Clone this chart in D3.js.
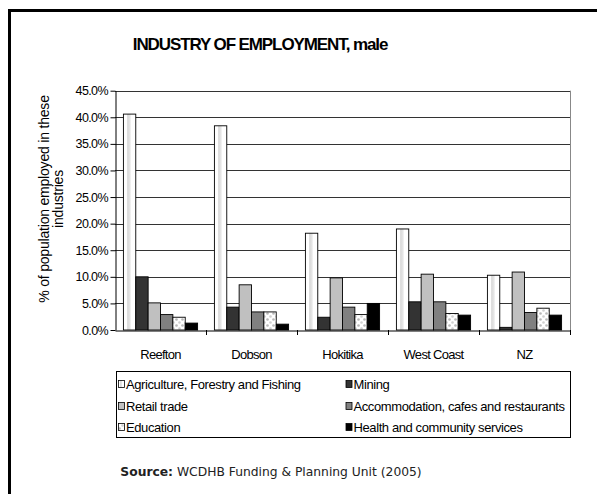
<!DOCTYPE html>
<html><head><meta charset="utf-8">
<script src="https://cdn.jsdelivr.net/npm/d3@7"></script>
<style>
html,body{margin:0;padding:0;background:#fff;}
svg{display:block;}
text{font-family:"Liberation Sans",Arial,sans-serif;}
</style></head>
<body>
<svg id="chart" width="597" height="494"></svg>
<script>
const categories = ["Reefton","Dobson","Hokitika","West Coast","NZ"];
const seriesNames = ["Agriculture, Forestry and Fishing","Mining","Retail trade","Accommodation, cafes and restaurants","Education","Health and community services"];
const agriculture = [40.6, 38.4, 18.2, 19.0, 10.3];
const mining      = [10.0, 4.3, 2.4, 5.3, 0.5];
const retail      = [5.1, 8.5, 9.8, 10.5, 10.9];
const accommodation = [2.9, 3.4, 4.3, 5.3, 3.3];
const education   = [2.4, 3.4, 2.9, 3.1, 4.1];
const health      = [1.3, 1.1, 5.0, 2.8, 2.8];
const yTicks = [0,5,10,15,20,25,30,35,40,45];
const seriesValues = [agriculture, mining, retail, accommodation, education, health];
const fills = ["url(#agri)","#333333","#c0c0c0","#808080","url(#edu)","#000000"];

const svg = d3.select("#chart");
const defs = svg.append("defs");
const g1 = defs.append("linearGradient").attr("id","agri").attr("x1","0").attr("x2","1").attr("y1","0").attr("y2","0");
[[0,"#ffffff"],[0.28,"#ffffff"],[0.34,"#d8d8d8"],[0.55,"#e8e8e8"],[0.62,"#ffffff"],[1,"#ffffff"]].forEach(s=>g1.append("stop").attr("offset",s[0]).attr("stop-color",s[1]));
const p = defs.append("pattern").attr("id","edu").attr("patternUnits","userSpaceOnUse").attr("width",6).attr("height",6);
p.append("rect").attr("width",6).attr("height",6).attr("fill","#fff");
p.append("circle").attr("cx",1.5).attr("cy",1.5).attr("r",1.3).attr("fill","#b8b8b8");
p.append("circle").attr("cx",4.5).attr("cy",4.5).attr("r",1.3).attr("fill","#d0d0d0");

// frame
svg.append("rect").attr("x",9.5).attr("y",10.5).attr("width",620).attr("height",520)
  .attr("fill","none").attr("stroke","#000").attr("stroke-width",3);

svg.append("text").attr("x",260).attr("y",50).attr("text-anchor","middle")
  .attr("font-size",17).attr("font-weight","bold").attr("letter-spacing",-1.1)
  .text("INDUSTRY OF EMPLOYMENT, male");

const pL=115, pR=570, pT=90.7, pB=330;
const x0 = d3.scaleBand().domain(categories).range([pL,pR]).paddingInner(0).paddingOuter(0);
const x1 = d3.scaleBand().domain(d3.range(seriesNames.length)).range([0,x0.bandwidth()]).paddingOuter(0.68).paddingInner(0);
const y = d3.scaleLinear().domain([0,45]).range([pB,pT]);

// gridlines
svg.append("g").selectAll("line").data(yTicks.filter(d=>d>0)).join("line")
  .attr("x1",pL).attr("x2",pR).attr("y1",d=>Math.round(y(d))+0.5).attr("y2",d=>Math.round(y(d))+0.5)
  .attr("stroke","#333").attr("stroke-width",1);
svg.append("line").attr("x1",pR+0.5).attr("x2",pR+0.5).attr("y1",pT).attr("y2",pB)
  .attr("stroke","#888");

// bars
const groups = svg.append("g").selectAll("g").data(categories).join("g")
  .attr("transform",c=>`translate(${x0(c)},0)`);
groups.selectAll("rect").data((c,ci)=>seriesValues.map((vals,si)=>({si,v:vals[ci]}))).join("rect")
  .attr("x",d=>x1(d.si)).attr("width",x1.bandwidth())
  .attr("y",d=>y(d.v)).attr("height",d=>y(0)-y(d.v))
  .attr("fill",d=>fills[d.si]).attr("stroke","#000").attr("stroke-width",0.9);

// y axis
const yAxis = d3.axisLeft(y).tickValues(yTicks).tickFormat(d=>d.toFixed(1)+"%").tickSize(5).tickSizeOuter(0);
const ya = svg.append("g").attr("transform",`translate(${pL+0.5},0)`).call(yAxis);
ya.selectAll("text").attr("font-size",12.5).attr("letter-spacing",-0.6).attr("fill","#000").attr("x",-7.5)
  .style("font-family","Liberation Sans, Arial, sans-serif");
ya.selectAll("line,path").attr("stroke","#000");

// x axis
const xAxis = d3.axisBottom(x0).tickSize(0).tickSizeOuter(0);
const xa = svg.append("g").attr("transform",`translate(0,${pB+0.5})`).call(xAxis);
xa.selectAll("text").attr("font-size",13).attr("letter-spacing",-0.7).attr("fill","#000").attr("dy",0).attr("y",28)
  .style("font-family","Liberation Sans, Arial, sans-serif");
xa.select("path").attr("stroke","#000");
xa.selectAll("line").remove();
svg.append("g").selectAll("line").data(categories.slice(1).concat(["__end"])).join("line")
  .attr("x1",(c,i)=>Math.round(pL + (i+1)*x0.bandwidth())+0.5)
  .attr("x2",(c,i)=>Math.round(pL + (i+1)*x0.bandwidth())+0.5)
  .attr("y1",pB).attr("y2",pB+5).attr("stroke","#000");

// y label
const yl = svg.append("text").attr("transform","translate(49,199) rotate(-90)").attr("text-anchor","middle")
  .attr("font-size",14).attr("letter-spacing",-0.2);
yl.append("tspan").attr("x",0).attr("dy",0).text("% of population employed in these");
yl.append("tspan").attr("x",0).attr("dy",14).text("industries");

// legend
svg.append("rect").attr("x",116.5).attr("y",371.5).attr("width",454).attr("height",66)
  .attr("fill","#fff").attr("stroke","#000");
const legPos = [[118,384],[345.5,384],[118,406],[345.5,406],[118,427],[345.5,427]];
const leg = svg.append("g").selectAll("g").data(seriesNames).join("g")
  .attr("transform",(d,i)=>`translate(${legPos[i][0]},${legPos[i][1]})`);
leg.append("rect").attr("x",0.5).attr("y",-3.5).attr("width",6).attr("height",7)
  .attr("fill",(d,i)=>fills[i]).attr("stroke","#000").attr("stroke-width",0.8);
leg.append("text").attr("x",8).attr("y",4.5).attr("font-size",13).attr("letter-spacing",-0.4).text(d=>d);

// source
const src = svg.append("text").attr("x",271).attr("y",476).attr("text-anchor","middle")
  .style("font-family","DejaVu Sans, Verdana, sans-serif").attr("font-size",12.3).attr("fill","#222");
src.append("tspan").attr("font-weight","bold").text("Source:");
src.append("tspan").text(" WCDHB Funding & Planning Unit (2005)");
</script>
</body></html>
